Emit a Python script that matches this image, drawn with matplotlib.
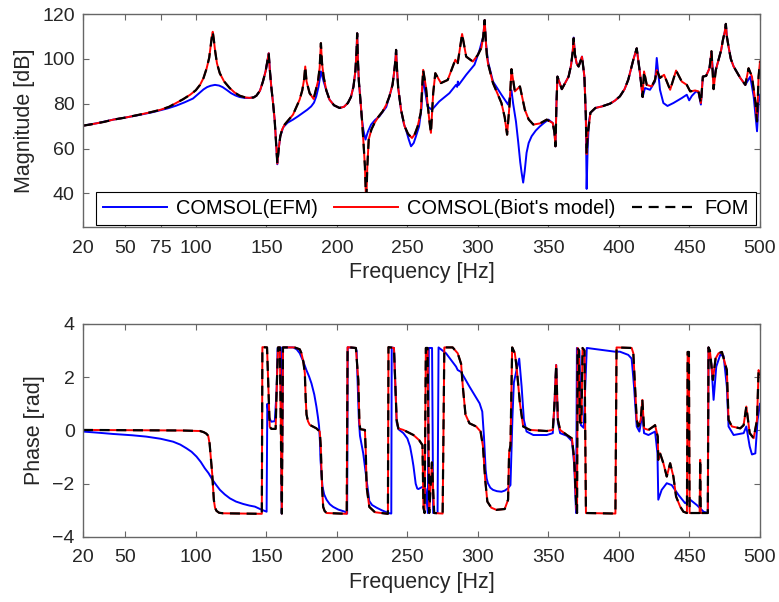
import matplotlib
matplotlib.use("Agg")
import matplotlib.pyplot as plt

plt.rcParams['font.family'] = ['Liberation Sans', 'DejaVu Sans']

# ---------------- Magnitude data ----------------
f_mag_ref = [20, 25, 30, 35, 41.5, 50, 60, 68, 75, 81, 86, 91, 96, 100, 103, 105.5, 107.7, 109.5, 110.5,
             111.3, 112, 112.7, 113.6, 115, 117, 120, 124, 127.5, 131, 135, 138, 141, 143, 145.5,
             147.6, 149.5, 151, 151.7, 152.5, 153.5, 154.8, 155.9, 157, 157.8, 158.8, 159.9, 161.2,
             163, 168.9, 173.6, 175.5, 176.8, 177.6, 178.5, 180.7, 183.5, 186.6, 187.8, 188.7, 189.5,
             190.6, 192.5, 194.8, 198, 201.9, 205, 207.8, 210, 211.8, 213.2, 214, 214.4, 214.9, 215.6,
             216.5, 217.8, 218.9, 219.9, 220.8, 221.6, 222.6, 224.5, 226.7, 229.5, 232.5, 235, 237.3,
             239.5, 240.8, 241.6, 242, 242.6, 243.5, 245.5, 248, 250.5, 253.3, 255.3, 257.3, 259.5,
             261.2, 263.1, 265.5, 266.7, 268.3, 269.8, 273.8, 278.6, 284, 285.7, 288.8, 291.7, 296.4,
             300, 302.5, 303.8, 304.8, 305.6, 306.3, 307.1, 310.7, 316.7, 319, 320.7, 322.5, 323.8,
             326.2, 329.8, 333.3, 336, 339.3, 344, 348.8, 353.1, 354.3, 355, 355.7, 356.4, 359.5,
             364.3, 366, 367.2, 367.9, 368.8, 370, 371.4, 373.8, 375.5, 376.5, 377.1, 377.8, 379.8,
             383.3, 388, 393.6, 397, 400.7, 404, 406.6, 410.2, 412.6, 414.9, 416.8, 417.8, 419.7,
             423.2, 425.6, 426.8, 429.1, 432, 436.3, 440.5, 444.5, 448.1, 450.5, 454, 456.4, 458.1,
             459.5, 461.8, 464.2, 465.6, 467.1, 468.7, 470.6, 472.5, 473.7, 475, 475.8, 476.5, 477.7,
             479.3, 481.3, 486, 489.6, 491.9, 494.3, 496.7, 497.9, 499, 500]
mag_ref = [70.2, 70.7, 71.3, 71.9, 72.9, 73.8, 75.1, 76.2, 77.3, 78.6, 80.3, 82.0, 84.0, 86.0, 88.4, 91.5, 95.8, 100.5, 105.5,
           109.5, 112.1, 109, 104, 98, 93.6, 90, 87, 85, 83.6, 82.8, 82.6, 82.8, 83.6, 85.8,
           89.9, 94.5, 100, 102.5, 95, 87.7, 80, 72.9, 62, 53.3, 60, 65.5, 68.5,
           70.7, 75.1, 81.8, 86, 91, 96.6, 90, 84.7, 82.1, 89.9, 96, 107, 98,
           92.1, 86, 81.8, 79.3, 78.1, 78.6, 80.3, 83, 87.7, 95, 104, 111.4, 100, 90,
           83.3, 73, 62.5, 52, 35, 52, 64, 68.5, 71.4, 74.2, 76.6, 79.5, 83.3,
           88.5, 95, 100, 104, 96, 87, 77.3, 70, 66.5, 64.7, 66.5, 69.9, 76,
           95.1, 87.7, 72.9, 67, 84.7, 93.6, 89.2, 90.6, 99.6, 98.1, 111.1, 101, 98.8,
           101.8, 105, 110, 117.3, 108, 102, 98.1, 89.2, 80.3, 74, 66.2, 80, 95.4,
           85.5, 87.7, 77.3, 73, 70.7, 71.2, 72.9, 71.4, 67, 61, 80, 92.1, 86.5,
           92.1, 97, 103, 109.2, 102, 98, 96.6, 101, 92.1, 75, 57.5, 66, 76,
           78.1, 78.8, 80, 81.3, 83.3, 86.5, 90.7, 99.6, 104.7, 93.6, 83, 94.4, 88.4,
           87.7, 90.7, 95, 91.5, 92.9, 86.2, 94.8, 89.9, 88.4, 85.5, 85.9, 85.5, 80.3,
           92.1, 92.4, 95.8, 103.4, 86.5, 95.1, 99.6, 104, 108.4, 112, 115.6, 110, 105.5,
           100, 96.6, 91.5, 88.4, 95.8, 92.1, 81, 72.1, 92.1, 98.8]
f_mag_biot = f_mag_ref
mag_biot = mag_ref
f_mag_fom = f_mag_ref
mag_fom = mag_ref

f_mag_efm = [20, 30, 41.5, 50, 60, 70, 80, 86, 92, 98, 103, 105.5, 108, 110.5, 113.6, 116.5, 119, 122,
             125, 128, 131, 134.5, 138, 141, 143, 145.5, 147.6, 149.5, 151, 151.7, 152.5, 153.5, 154.8,
             155.9, 157, 157.8, 158.8, 159.9, 162, 165, 168.9, 172.5, 175.9, 179, 181.8, 183.8, 185.4,
             187, 188.7, 190.6, 192.5, 194.8, 198, 201.9, 205, 207.8, 210, 211.8, 213.2, 214, 214.4,
             214.9, 215.6, 216.5, 217.8, 218.9, 220.3, 222, 224.3, 227, 230.2, 235, 237.3, 239.5, 240.8,
             241.6, 242, 242.6, 243.5, 245.5, 247.5, 249, 251, 252.6, 254.5, 256.1, 258.3, 260, 261.2,
             262, 264.3, 267.4, 272.6, 279.8, 284.5, 285.3, 285.8, 286.3, 291.7, 297.6, 301.2, 303.8,
             304.8, 305.6, 307.1, 310.7, 316.7, 321.4, 323.8, 325, 327, 328.6, 330, 331, 332.1, 333.2,
             334.5, 336, 338.1, 341, 344, 347, 350, 353.1, 354.3, 355, 355.7, 356.4, 359.5, 364.3, 366,
             367.2, 367.9, 368.8, 370, 371.4, 373.8, 375.5, 376.5, 377.1, 377.8, 378.7, 379.8, 383.3,
             388, 393.6, 397, 400.7, 404, 406.6, 410.2, 412.6, 414.9, 416.8, 418.5, 422, 425.6, 426.8,
             429.1, 431.5, 434.4, 438.6, 444.5, 448.1, 449.8, 451.7, 454.7, 456.4, 458.1, 459.5, 461.8,
             464.2, 465.6, 467.1, 468.7, 470.6, 472.5, 473.7, 475, 475.8, 476.5, 477.7, 479.3, 481.3,
             486, 489.6, 493.1, 495.5, 497.9, 499, 500]
mag_efm = [70.2, 71.3, 72.9, 73.8, 75.0, 76.3, 77.9, 79.1, 80.6, 82.3, 85.0, 86.4, 87.4, 88.0, 88.4, 88.1, 87.4, 86.1,
           84.7, 83.7, 83.0, 82.6, 82.6, 82.8, 83.6, 85.8, 89.9, 94.5, 100, 102.5, 95, 87.7, 80,
           72.9, 62, 53, 60, 65.5, 69.5, 71.5, 72.9, 74.4, 75.9, 77.3, 78.8, 80.5, 83.3,
           87.5, 94.4, 90, 86, 81.8, 79.3, 78.1, 78.6, 80.3, 83, 87.7, 95, 104, 111.4,
           100, 90, 83.3, 73, 68, 64, 67.5, 70.7, 72.7, 74.4, 78.5, 83.3, 88.5, 95,
           100, 104, 96, 87, 77.3, 71, 68.4, 64, 61, 62.5, 65.5, 69.9, 78, 93,
           88, 78.8, 77.3, 81, 84.7, 88.4, 87.5, 89.9, 88.3, 92.9, 97.4, 104, 110,
           117.3, 108, 99, 89.9, 84, 79.6, 86, 80, 72, 62.8, 54, 49.2, 44.8, 50,
           58.1, 62.5, 65.5, 68, 69.9, 71.5, 72.9, 71.4, 67, 61, 80, 92.1, 86.5, 92.1, 97,
           103, 109.5, 102, 98, 96.6, 101, 92.1, 75, 42, 60, 72, 76, 78.1,
           78.8, 80, 81.3, 83.3, 86.5, 90.7, 99.6, 104.7, 93.6, 83, 87, 86.2, 89.9, 100.4,
           86.2, 80.3, 79, 80.3, 82.5, 84, 81.5, 83.5, 85.5, 85, 79.6, 92.1, 92.4,
           95.8, 103, 90.7, 95.1, 99.6, 104, 108.4, 112, 115.6, 110, 105.5, 100, 96.6,
           91.5, 88.4, 92.1, 83.3, 67.7, 80.3, 84]

# ---------------- Phase data ----------------
f_ph_ref = [20, 60, 90, 103, 105.5, 107.5, 108.8, 109.8, 110.4, 111.6, 112.8, 113.6, 114.7, 116.5, 119.4,
            146.8, 147.2, 150.5, 151.4, 152.4, 153.6, 156.6, 157.3, 158.3, 159.6, 161.0, 161.8, 170,
            173.7, 174.9, 176.2, 177.3, 177.9, 178.5, 179.5, 180.8, 185.5, 187.9, 188.6, 189.1, 189.7,
            190.3, 191.3, 192.7, 207.0, 207.6, 213.5, 215.2, 216.0, 216.6, 219.9, 220.5, 221.1, 223,
            227, 236.2, 236.6, 240.5, 242.4, 243.6, 247.2, 254.3, 258.3, 260.7, 261.4, 262.2, 263.1,
            264.3, 265.5, 267.4, 269, 275.0, 276.2, 282.1, 285.7, 288.1, 289.3, 291.2, 294, 298.8,
            301.9, 303.6, 305.2, 306.7, 309.5, 313.1, 319, 321.4, 322.1, 323.1, 324.3, 326.2, 327.4,
            329.8, 332.1, 336.9, 348.8, 353.1, 354.3, 355.5, 356.7, 358.3, 363.1, 366.7, 368.3, 369.8,
            370.3, 370.7, 371.6, 372.3, 373.4, 374.2, 375.6, 376.6, 397.5, 398.3, 409, 410.2, 411.4,
            412.6, 413.7, 415.4, 416.6, 417.8, 420.9, 424.4, 425.6, 427.5, 427.9, 429.1, 431.5, 433.9,
            436.3, 438.6, 440.5, 443.4, 445.7, 448.2, 448.7, 449.6, 450.1, 457.2, 457.6, 458.0, 463.0,
            463.5, 464.5, 466.6, 468.5, 470.6, 473, 476.5, 477.7, 480.1, 486, 488.4, 490.3, 492.7,
            495.5, 497.9, 499, 500]
ph_ref = [0.02, 0.01, 0.0, -0.02, -0.06, -0.12, -0.2, -0.5, -0.86, -1.61, -2.61, -2.9, -3.02, -3.09, -3.11,
          -3.13, 3.13, 3.12, 1.65, 0.14, 0.06, 0.06, 1.5, 3.12, 3.12, -3.12, 3.12, 3.12,
          3.05, 2.9, 2.6, 2.15, 1.2, 0.6, 0.35, 0.21, 0.08, -0.04, -0.6, -1.48, -2.3,
          -2.87, -3.02, -3.1, -3.13, 3.13, 3.1, 1.9, 0.3, 0.05, 0.02, -0.8, -2.11, -2.87,
          -3.07, -3.13, 3.13, 3.1, 0.4, 0.08, 0.02, -0.17, -0.36, -0.55, -2.9, -3.1, 3.1,
          3.1, -3.1, -1.2, -3.1, -3.12, 3.12, 3.12, 2.9, 2.5, 1.65, 0.6, 0.27, 0.15,
          -0.04, -0.6, -1.86, -2.67, -2.9, -2.98, -2.95, -2.6, -0.85, -0.55, 3.12, 2.9, 2.4,
          1.02, 0.15, 0.02, -0.02, 0.02, 1.0, 2.46, 0.4, 0.02, -0.17, -0.3, -1.1, -2.9,
          -3.1, 3.1, 3.0, 0.3, 0.3, 3.1, 3.0, -3.1, -3.12, 3.12, 3.1, 2.9, 1.65,
          0.4, 0.15, 0.4, 1.15, 0.08, 0.02, 0.15, 0.2, -0.23, -1.1, -0.85, -1.23, -1.73,
          -1.23, -1.73, -2.48, -2.86, -3.05, -3.1, 2.95, 2.95, -3.1, -3.1, -1.1, -3.1, -3.1,
          3.12, 3.0, 1.9, 2.7, 2.9, 2.95, 2.27, 0.4, 0.15, 0.08, 0.2, 0.9, -0.1,
          -0.29, 0.4, 2.27, 2.1]
f_ph_biot = f_ph_ref
ph_biot = ph_ref
f_ph_fom = f_ph_ref
ph_fom = ph_ref

f_ph_efm = [20, 30, 41.2, 55, 64.9, 75, 83.9, 89, 93.4, 97, 100.5, 103.5, 106.4, 109, 111.8, 114.5, 117.1,
            120.5, 124.2, 128.5, 133.6, 138, 141.9, 146.4, 150.2, 150.7, 151.8, 153.5, 156, 157.3, 158,
            160.3, 160.9, 161.8, 169, 171.5, 173.7, 176, 178.4, 180.3, 182, 184, 185.5, 186.6, 187.4,
            188.0, 188.4, 189.8, 191, 192.7, 195, 197.4, 201, 205.7, 207.3, 207.7, 213.2, 214, 215.6,
            216.4, 218.7, 220, 221.1, 223, 225, 228.2, 232, 236.5, 238.6, 238.9, 240.5, 242.4, 243.6,
            247.2, 250, 251.9, 253.3, 254.3, 255.9, 257, 257.8, 259.5, 261.4, 263, 264.5, 265.2, 267.5,
            268.3, 271.4, 272.1, 277.4, 284.5, 285.7, 288.1, 294, 301.2, 303.1, 304.3, 305.5, 306.2,
            307.1, 308.8, 310.7, 313.5, 316.7, 319, 321.4, 323.1, 324.5, 325.5, 327.4, 329.3, 331,
            332.6, 334.5, 339.3, 348.8, 353.1, 354.3, 355.5, 356.7, 358.3, 363.1, 366.7, 368.3, 369.6,
            370.2, 372.0, 373.0, 375.0, 377.2, 380, 397.2, 400.7, 406.6, 409, 410.7, 412.6, 414.5,
            416.6, 417.8, 420.9, 425.6, 427.3, 427.9, 430.3, 433.9, 437.4, 442.2, 446.9, 450.5, 455.2,
            460, 463, 463.5, 465.5, 467.1, 469, 471.8, 474.2, 476.5, 477.7, 481.3, 488.4, 490.3, 492.7,
            494.3, 496.7, 498.3, 500]
ph_efm = [-0.04, -0.08, -0.13, -0.18, -0.23, -0.31, -0.42, -0.53, -0.67, -0.8, -0.98, -1.18, -1.42, -1.6, -1.85, -2.05, -2.23,
          -2.4, -2.55, -2.67, -2.76, -2.82, -2.86, -2.97, -3.05, 1.0, 0.5, 0.33, 0.35, 1.5, 3.1,
          3.12, -3.12, 3.12, 3.12, 3.05, 2.9, 2.62, 2.27, 2.03, 1.77, 1.35, 0.9, 0.5, 0.15,
          -0.4, -1.1, -2.1, -2.4, -2.6, -2.77, -2.87, -2.97, -3.05, -3.12, 3.12, 3.1, 3.0, 0.4,
          -0.2, -0.86, -1.4, -1.86, -2.65, -2.8, -2.9, -3.0, -3.1, -3.12, 3.12, 3.1, 0.3, 0.05,
          -0.1, -0.3, -0.6, -1.0, -1.33, -2.0, -2.18, -2.2, -2.15, -2.1, -2.2, -3.1, 3.1, 3.1,
          -3.1, -3.1, 3.12, 2.9, 2.4, 2.27, 2.2, 1.65, 1.02, 0.71, -0.23, -1.48, -1.8,
          -1.98, -2.15, -2.23, -2.28, -2.3, -2.26, -2.17, -2.05, 0.5, 1.8, 2.27, 2.7, 1.65,
          0.4, -0.04, -0.17, -0.17, -0.1, 1.0, 2.46, 0.3, -0.1, -0.2, -0.4, -1.3, -3.1,
          3.1, 3.0, 0.2, 0.1, 3.1, 3.08, 2.96, 2.96, 2.84, 2.7, 1.65, 0.15, -0.04,
          0.6, -0.1, -0.17, -0.04, -0.85, -2.6, -2.23, -1.98, -2.05, -2.42, -2.73, -2.6, -2.8,
          -3.05, -3.1, 3.12, 2.5, 1.15, 2.4, 2.84, 2.8, 1.65, 0.15, -0.17, -0.1, 0.15, -0.6,
          -0.9, -0.86, 0.4, 1.0]

mag_xticks = [20, 50, 75, 100, 150, 200, 250, 300, 350, 400, 450, 500]
ph_xticks = [20, 50, 100, 150, 200, 250, 300, 350, 400, 450, 500]
mag_yticks = [40, 60, 80, 100, 120]
ph_yticks = [-4, -2, 0, 2, 4]

labels = ['COMSOL(EFM)', "COMSOL(Biot's model)", 'FOM']

# ---------------- Figure ----------------
fig = plt.figure(figsize=(7.79, 6.02), dpi=100)
ax1 = fig.add_axes([0.1065, 0.6229, 0.8691, 0.3538])
ax2 = fig.add_axes([0.1065, 0.108, 0.8691, 0.3538])

BLUE = '#0000ff'
RED = '#ff0000'
TFS = 14
LFS = 15.5
GFS = 14.4
dash = (0, (4.5, 3.0))
TXT = '#262626'

for ax in (ax1, ax2):
    for s in ax.spines.values():
        s.set_color('#666666')
        s.set_linewidth(1.0)
    ax.tick_params(direction='in', top=True, right=True, length=4, width=0.8,
                   color='#666666', labelsize=TFS, labelcolor=TXT)
    ax.tick_params(axis='x', pad=9)
    ax.tick_params(axis='y', pad=6)

ax1.plot(f_mag_efm, mag_efm, color=BLUE, lw=1.4, label=labels[0])
ax1.plot(f_mag_biot, mag_biot, color=RED, lw=1.4, label=labels[1])
ax1.plot(f_mag_fom, mag_fom, color='black', lw=1.6, linestyle=dash, label=labels[2])
ax1.set_xlim(20, 500)
ax1.set_ylim(25, 120)
ax1.set_xticks(mag_xticks)
ax1.set_yticks(mag_yticks)
ax1.set_xlabel('Frequency [Hz]', fontsize=LFS, color=TXT, labelpad=4)
ax1.set_ylabel('Magnitude [dB]', fontsize=LFS, color=TXT, labelpad=5)
leg = ax1.legend(loc='lower center', bbox_to_anchor=(0.507, 0.0), ncol=3, fontsize=GFS,
                 frameon=True, fancybox=False, edgecolor='black', framealpha=1,
                 handlelength=3.2, handletextpad=0.45, columnspacing=0.8,
                 borderpad=0.35, borderaxespad=0.1)
leg.get_frame().set_linewidth(0.8)

ax2.plot(f_ph_efm, ph_efm, color=BLUE, lw=1.4)
ax2.plot(f_ph_biot, ph_biot, color=RED, lw=1.4)
ax2.plot(f_ph_fom, ph_fom, color='black', lw=1.6, linestyle=dash)
ax2.set_xlim(20, 500)
ax2.set_ylim(-4, 4)
ax2.set_xticks(ph_xticks)
ax2.set_yticks(ph_yticks)
ax2.set_xlabel('Frequency [Hz]', fontsize=LFS, color=TXT, labelpad=4)
ax2.set_ylabel('Phase [rad]', fontsize=LFS, color=TXT, labelpad=5)

fig.savefig('out.png', dpi=100)
